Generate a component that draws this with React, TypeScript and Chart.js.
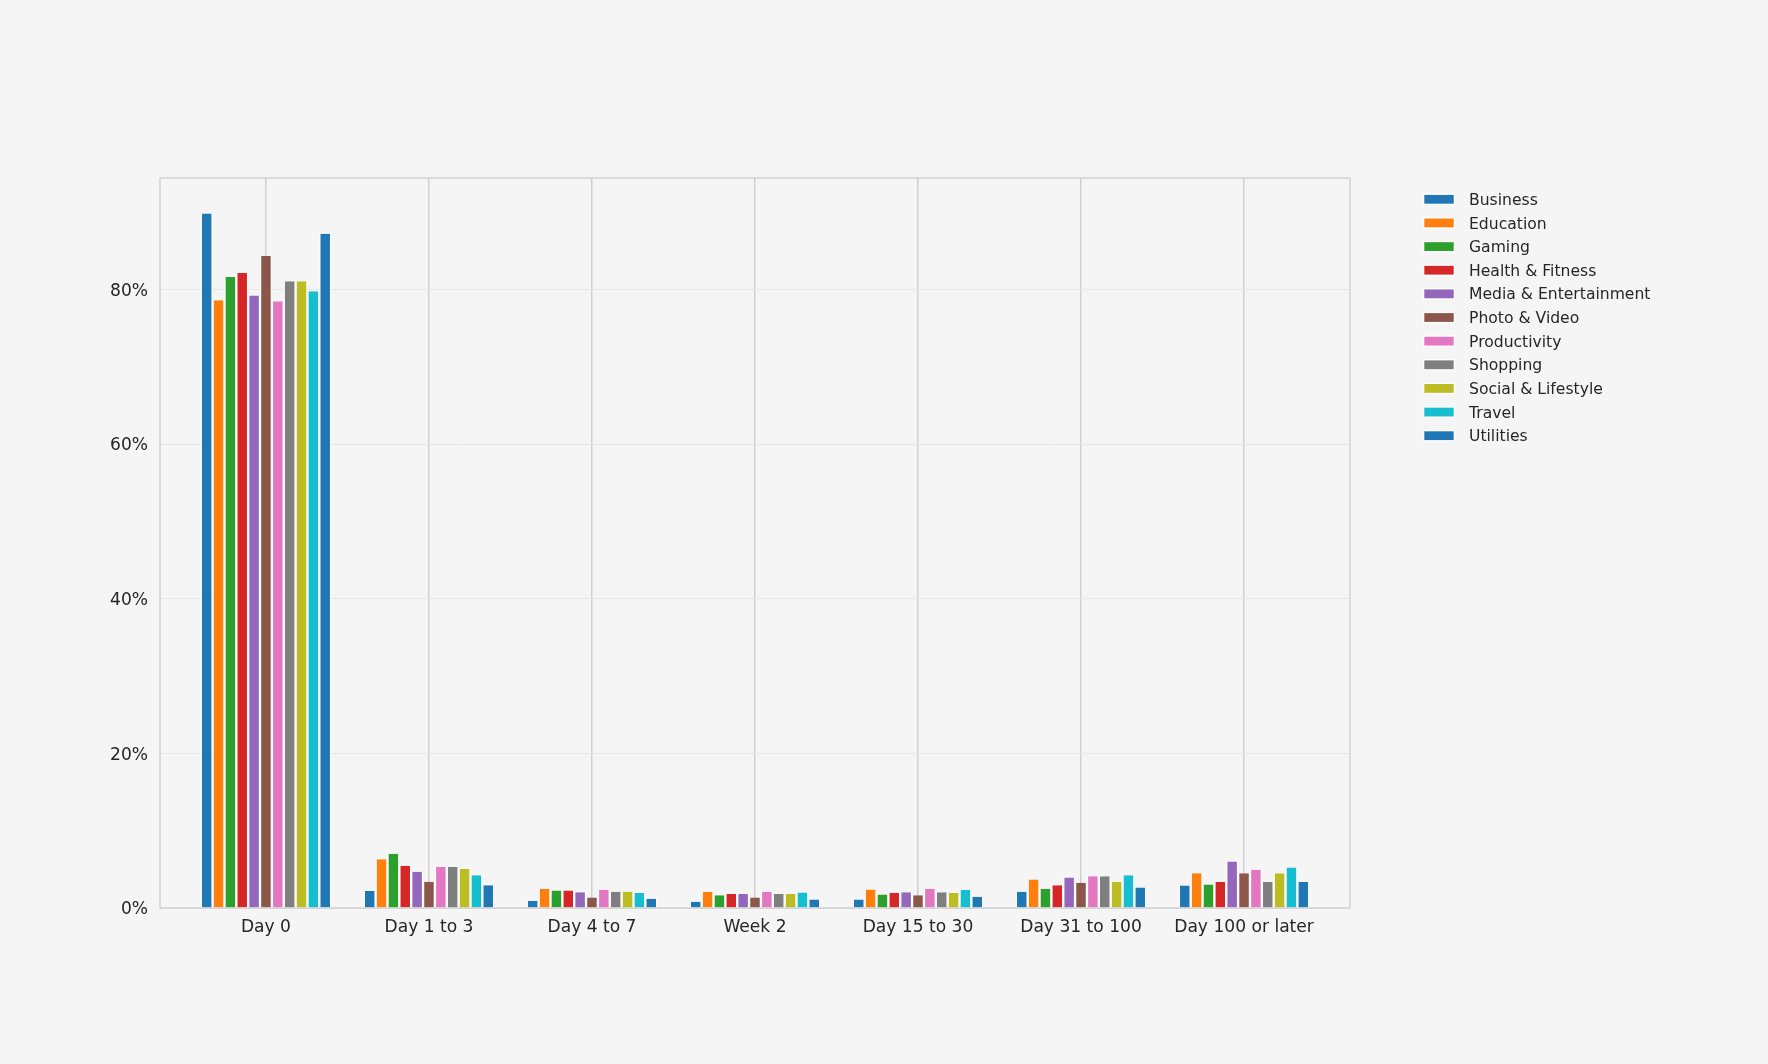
import { useEffect, useRef } from 'react'
import { Chart, registerables } from 'chart.js'
import type { Plugin } from 'chart.js'

Chart.register(...registerables)

const CATEGORIES = ['Day 0', 'Day 1 to 3', 'Day 4 to 7', 'Week 2', 'Day 15 to 30', 'Day 31 to 100', 'Day 100 or later']

// share of users (%) per retention bucket
const BUSINESS = [89.8, 2.2, 0.9, 0.8, 1.1, 2.1, 2.9]
const EDUCATION = [78.6, 6.3, 2.5, 2.1, 2.4, 3.7, 4.5]
const GAMING = [81.6, 7.0, 2.25, 1.65, 1.75, 2.5, 3.05]
const HEALTH = [82.1, 5.45, 2.25, 1.8, 1.95, 2.95, 3.35]
const MEDIA = [79.2, 4.7, 2.05, 1.8, 2.05, 3.95, 6.0]
const PHOTO = [84.3, 3.4, 1.35, 1.35, 1.65, 3.25, 4.5]
const PRODUCTIVITY = [78.45, 5.3, 2.35, 2.1, 2.5, 4.1, 4.95]
const SHOPPING = [81.05, 5.3, 2.1, 1.8, 2.05, 4.1, 3.35]
const SOCIAL = [81.05, 5.05, 2.1, 1.8, 1.95, 3.35, 4.5]
const TRAVEL = [79.75, 4.25, 1.95, 2.0, 2.35, 4.25, 5.25]
const UTILITIES = [87.2, 2.95, 1.2, 1.1, 1.45, 2.65, 3.35]

const SERIES_NAMES = [
    'Business', 'Education', 'Gaming', 'Health & Fitness', 'Media & Entertainment', 'Photo & Video',
    'Productivity', 'Shopping', 'Social & Lifestyle', 'Travel', 'Utilities',
]
const SERIES_VALUES = [BUSINESS, EDUCATION, GAMING, HEALTH, MEDIA, PHOTO, PRODUCTIVITY, SHOPPING, SOCIAL, TRAVEL, UTILITIES]
const SERIES_COLORS = [
    '#1f77b4', '#ff7f0e', '#2ca02c', '#d62728', '#9467bd', '#8c564b', '#e377c2', '#7f7f7f', '#bcbd22', '#17becf', '#1f77b4',
]

const Y_TICK_STEP = 20
const Y_MAX = 94.4

const FONT = "'DejaVu Sans', sans-serif"
const TEXT = '#262626'
const BG = '#f5f5f5'

const frame: Plugin<'bar'> = {
    id: 'frame',
    afterDatasetsDraw(chart) {
        const { ctx, chartArea: a } = chart
        ctx.save()
        ctx.strokeStyle = '#cccccc'
        ctx.lineWidth = 1.3
        ctx.strokeRect(a.left, a.top, a.right - a.left, a.bottom - a.top)
        ctx.restore()
    },
}

const sideLegend: Plugin<'bar'> = {
    id: 'sideLegend',
    afterDraw(chart) {
        const { ctx, chartArea } = chart
        const x0 = chartArea.right + 73
        const y0 = chartArea.top + 21.3
        ctx.save()
        ctx.font = `15.6px ${FONT}`
        ctx.textBaseline = 'middle'
        chart.data.datasets.forEach((ds, i) => {
            const cy = y0 + i * 23.64
            ctx.fillStyle = '#ffffff'
            ctx.fillRect(x0, cy - 5.7, 32, 11.4)
            ctx.fillStyle = ds.backgroundColor as string
            ctx.fillRect(x0 + 1.3, cy - 4.4, 29.4, 8.8)
            ctx.fillStyle = TEXT
            ctx.fillText(ds.label ?? '', x0 + 46, cy + 1.5)
        })
        ctx.restore()
    },
}

function RetentionChart() {
    const canvasRef = useRef<HTMLCanvasElement | null>(null)
    const chartRef = useRef<Chart | null>(null)

    useEffect(() => {
        if (!canvasRef.current) return
        const ctx = canvasRef.current.getContext('2d')!

        const datasets = SERIES_NAMES.map((name, idx) => ({
            label: name,
            data: SERIES_VALUES[idx].map((v, i) => ({ x: i, y: v })),
            backgroundColor: SERIES_COLORS[idx],
            borderColor: '#ffffff',
            borderWidth: { top: 0, left: 1.2, right: 1.2, bottom: 0 },
            categoryPercentage: 0.8,
            barPercentage: 1,
        }))

        chartRef.current = new Chart(ctx, {
            type: 'bar',
            data: { datasets },
            options: {
                animation: false,
                responsive: true,
                maintainAspectRatio: false,
                layout: { padding: { top: 178, right: 418, left: 0, bottom: 0 } },
                plugins: {
                    legend: { display: false },
                    tooltip: { enabled: false },
                },
                scales: {
                    x: {
                        type: 'linear',
                        min: -0.65,
                        max: CATEGORIES.length - 1 + 0.65,
                        offset: false,
                        afterFit: (s) => { s.height = 156 },
                        border: { display: false },
                        grid: { color: '#d0d0d0', lineWidth: 1.5, drawTicks: false, offset: false },
                        ticks: {
                            stepSize: 1,
                            includeBounds: false,
                            padding: 9.5,
                            color: TEXT,
                            font: { family: FONT, size: 17.1 },
                            maxRotation: 0,
                            autoSkip: false,
                            callback: (v) => CATEGORIES[Number(v)] ?? '',
                        },
                    },
                    y: {
                        min: 0,
                        max: Y_MAX,
                        afterFit: (s) => { s.width = 160 },
                        border: { display: false },
                        grid: { color: '#e6e6e6', lineWidth: 1, drawTicks: false },
                        ticks: {
                            stepSize: Y_TICK_STEP,
                            includeBounds: false,
                            padding: 12,
                            labelOffset: 2,
                            color: TEXT,
                            font: { family: FONT, size: 17.1 },
                            callback: (v) => `${v}%`,
                        },
                    },
                },
            },
            plugins: [frame, sideLegend],
        })

        return () => {
            chartRef.current?.destroy()
            chartRef.current = null
        }
    }, [])

    return <canvas ref={canvasRef} />
}

export default function App() {
    useEffect(() => {
        document.body.style.margin = '0'
        document.body.style.background = BG
    }, [])

    return (
        <div style={{ width: 1768, height: 1064, background: BG, position: 'relative' }}>
            <RetentionChart />
        </div>
    )
}
